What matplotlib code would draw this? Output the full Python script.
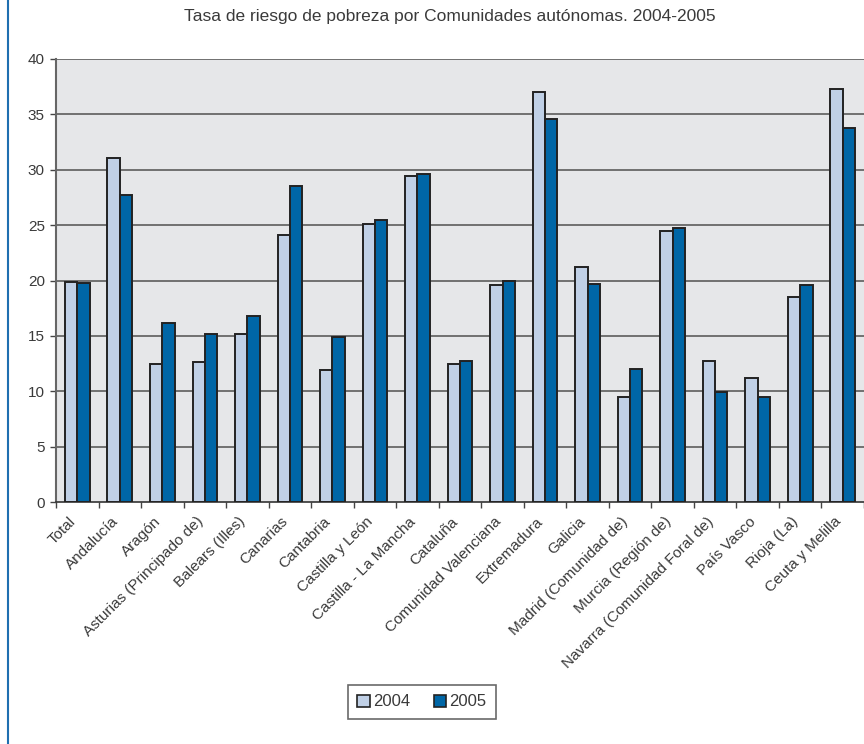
import numpy as np
import matplotlib
matplotlib.use("Agg")
import matplotlib.pyplot as plt
import matplotlib.transforms as mtransforms
from matplotlib.lines import Line2D
from matplotlib.patches import Patch

plt.rcParams["font.family"] = ["Liberation Sans", "DejaVu Sans"]

# datos
comunidades = ["Total", "Andalucía", "Aragón", "Asturias (Principado de)",
               "Balears (Illes)", "Canarias", "Cantabria", "Castilla y León",
               "Castilla - La Mancha", "Cataluña", "Comunidad Valenciana",
               "Extremadura", "Galicia", "Madrid (Comunidad de)",
               "Murcia (Región de)", "Navarra (Comunidad Foral de)",
               "País Vasco", "Rioja (La)", "Ceuta y Melilla"]
tasa_2004 = [19.9, 31.1, 12.5, 12.6, 15.2, 24.1, 11.9, 25.1, 29.4, 12.5,
             19.6, 37.0, 21.2, 9.5, 24.5, 12.7, 11.2, 18.5, 37.3]
tasa_2005 = [19.8, 27.7, 16.2, 15.2, 16.8, 28.5, 14.9, 25.5, 29.6, 12.7,
             20.0, 34.6, 19.7, 12.0, 24.7, 9.9, 9.5, 19.6, 33.8]
anios = ["2004", "2005"]

col_04 = "#C0D0E6"
col_05 = "#0066A6"
texto = "#3a3a3a"

fig = plt.figure(figsize=(8.64, 7.44), dpi=100)
ax = fig.add_axes([56 / 864, 1 - 502 / 744, 1 - 56 / 864, (502 - 59) / 744])
ax.set_facecolor("#E6E7E9")

x = np.arange(len(comunidades))
w = 0.29
ax.bar(x - w / 2, tasa_2004, w, color=col_04, edgecolor="#222222",
       linewidth=1.4, zorder=3)
ax.bar(x + w / 2, tasa_2005, w, color=col_05, edgecolor="#222222",
       linewidth=1.4, zorder=3)

ax.set_xlim(-0.5, len(comunidades) - 0.5)
ax.set_ylim(0, 40)
ax.set_yticks(range(0, 41, 5))
for v in range(5, 41, 5):
    ax.axhline(v, color="#505050", linewidth=1.1, zorder=1)

ax.set_xticks(x)
ax.set_xticklabels(comunidades, rotation=45, ha="right",
                   rotation_mode="anchor", fontsize=11, color=texto)
ax.set_xticks(np.arange(-0.5, len(comunidades), 1), minor=True)
ax.tick_params(axis="x", which="major", length=0, pad=9)
ax.tick_params(axis="x", which="minor", length=4, color="#444444", width=1)
ax.tick_params(axis="y", length=4, color="#444444", width=1,
               labelsize=11, labelcolor=texto, pad=4)

# desplazar las etiquetas un poco a la izquierda
desp = mtransforms.ScaledTranslation(-9 / 100, 0, fig.dpi_scale_trans)
for lab in ax.get_xticklabels():
    lab.set_transform(lab.get_transform() + desp)

for s in ["top", "right"]:
    ax.spines[s].set_visible(False)
ax.spines["left"].set_color("#666666")
ax.spines["left"].set_linewidth(1.5)
ax.spines["bottom"].set_color("#333333")
ax.spines["bottom"].set_linewidth(1.2)

fig.text(0.521, 1 - 17 / 744,
         "Tasa de riesgo de pobreza por Comunidades autónomas. 2004-2005",
         ha="center", va="center", fontsize=12.5, color=texto)

handles = [Patch(facecolor=col_04, edgecolor="#222222", linewidth=1.2),
           Patch(facecolor=col_05, edgecolor="#222222", linewidth=1.2)]
leg = fig.legend(handles, anios, loc="center", bbox_to_anchor=(422 / 864, 1 - 702 / 744),
                 ncol=2, frameon=True, fancybox=False, fontsize=12,
                 handlelength=0.75, handleheight=0.75, handletextpad=0.2,
                 columnspacing=1.4, borderpad=0.55)
leg.get_frame().set_edgecolor("#444444")
leg.get_frame().set_linewidth(1.2)
for t in leg.get_texts():
    t.set_color(texto)

fig.add_artist(Line2D([7.5 / 864, 7.5 / 864], [0, 1], color="#1F6FB0",
                      linewidth=1.5, transform=fig.transFigure))

fig.savefig("out.png", dpi=100)
